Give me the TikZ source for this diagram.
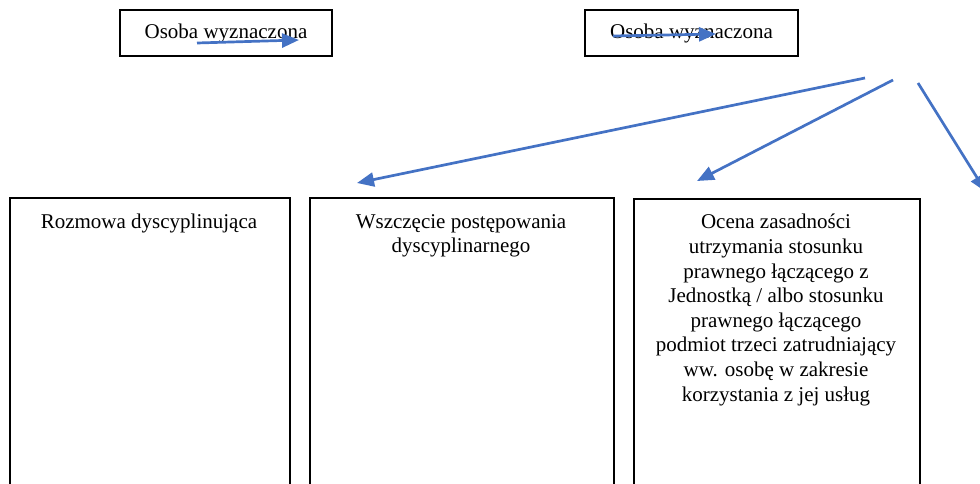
\documentclass[tikz,border=0pt]{standalone}
\usepackage{fontspec}
\setmainfont{Liberation Serif}
\usetikzlibrary{arrows.meta}
\definecolor{arrowblue}{HTML}{4472C4}
\begin{document}
\begin{tikzpicture}[x=1pt,y=-1pt,
  topbox/.style={draw=black,line width=1.8pt,minimum width=#1,minimum height=46pt,inner sep=0pt,font=\fontsize{21}{24.6}\selectfont},
  bigbox/.style={draw=black,line width=1.8pt,anchor=north west,minimum width=#1,minimum height=300pt,inner sep=0pt},
  boxtext/.style={anchor=north,align=center,inner sep=0pt,font=\fontsize{21}{24.6}\selectfont},
  bluearrow/.style={draw=arrowblue,line width=2.7pt,-{Triangle[length=17pt,width=14pt]}}]
\useasboundingbox (0,0) rectangle (980,484);
\clip (0,0) rectangle (980,484);
% top boxes
\node[topbox=212pt] (os1) at (226,33) {Osoba wyznaczona};
\node[topbox=213pt] (os2) at (691.5,33) {Osoba wyznaczona};
% bottom boxes
\node[bigbox=280pt] (bA) at (9,197) {};
\node[bigbox=304pt] (bB) at (309,197) {};
\node[bigbox=286pt] (bC) at (633,198) {};
\node[boxtext] (tA) at (149,214) {Rozmowa dyscyplinująca};
\node[boxtext] (tB) at (461,214) {Wszczęcie postępowania\\dyscyplinarnego};
\node[boxtext] (tC) at (776,214) {Ocena zasadności\\utrzymania stosunku\\prawnego łączącego z\\Jednostką / albo stosunku\\prawnego łączącego\\podmiot trzeci zatrudniający\\ww. osobę w zakresie\\korzystania z jej usług};
% arrow coordinates
\coordinate (a1s) at (197,43);
\coordinate (a1e) at (299,40);
\coordinate (a2s) at (613,36);
\coordinate (a2e) at (716,34);
\coordinate (b1s) at (865,78);
\coordinate (b1e) at (357,183);
\coordinate (b2s) at (893,80);
\coordinate (b2e) at (697,181);
\coordinate (b3s) at (918,83);
\coordinate (b3e) at (986,192);
\draw[bluearrow] (a1s) -- (a1e);
\draw[bluearrow] (a2s) -- (a2e);
\draw[bluearrow] (b1s) -- (b1e);
\draw[bluearrow] (b2s) -- (b2e);
\draw[bluearrow] (b3s) -- (b3e);
\end{tikzpicture}
\end{document}
